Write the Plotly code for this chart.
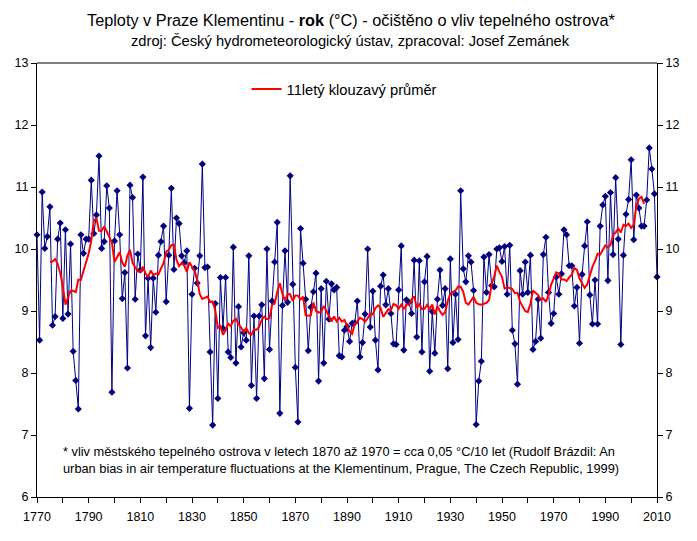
import plotly.graph_objects as go
import pandas as pd

# ---- data ----
first_year = 1770
temps = [
    10.23, 8.53, 10.92, 10.01, 10.20, 10.68, 8.77, 8.91, 10.16, 10.42,   # 1770-1779
    8.88, 10.31, 8.95, 10.08, 8.35, 7.88, 7.42, 10.23, 9.93, 10.16,      # 1780-1789
    10.16, 11.11, 10.25, 10.55, 11.50, 10.01, 10.12, 11.02, 10.66, 7.69, # 1790-1799
    10.13, 10.94, 10.23, 9.20, 9.62, 8.08, 11.03, 10.83, 9.19, 9.92,     # 1800-1809
    9.66, 11.16, 8.60, 9.53, 8.41, 9.53, 8.98, 9.90, 10.12, 10.37,       # 1810-1819
    9.15, 9.90, 10.98, 9.67, 10.50, 10.41, 9.89, 9.78, 9.97, 7.43,       # 1820-1829
    9.27, 9.69, 9.45, 9.89, 11.37, 9.70, 9.71, 8.34, 7.16, 9.12,         # 1830-1839
    7.59, 9.54, 8.72, 9.54, 8.34, 8.25, 10.03, 8.16, 9.07, 8.42,         # 1840-1849
    8.65, 8.53, 9.89, 7.80, 8.92, 7.59, 8.92, 9.10, 7.91, 10.00,         # 1850-1859
    8.38, 9.16, 9.79, 10.43, 7.35, 9.09, 9.97, 9.14, 11.18, 9.43,        # 1860-1869
    8.09, 7.21, 10.33, 9.77, 9.19, 8.36, 9.06, 9.31, 9.61, 7.87,         # 1870-1879
    9.36, 8.16, 9.48, 8.87, 9.44, 9.34, 9.38, 8.28, 8.26, 8.69,          # 1880-1889
    8.75, 8.51, 8.80, 8.81, 9.16, 8.26, 8.49, 8.95, 10.00, 8.74,         # 1890-1899
    9.32, 8.53, 8.05, 9.40, 9.58, 9.10, 9.36, 8.96, 8.47, 8.46,          # 1900-1909
    9.34, 10.05, 8.37, 9.18, 9.14, 8.96, 9.82, 8.58, 9.81, 8.34,         # 1910-1919
    9.47, 9.88, 8.03, 8.99, 8.32, 9.19, 9.66, 9.09, 9.36, 8.07,          # 1920-1929
    9.84, 8.49, 9.27, 8.54, 10.94, 9.68, 9.47, 9.89, 9.79, 9.33,         # 1930-1939
    7.17, 7.87, 8.19, 9.87, 9.30, 9.91, 9.41, 9.39, 10.00, 10.02,        # 1940-1949
    9.80, 10.04, 9.27, 10.06, 8.69, 8.47, 7.82, 9.65, 9.27, 9.79,        # 1950-1959
    9.30, 9.90, 8.38, 8.51, 9.19, 8.56, 9.91, 10.19, 9.30, 8.80,         # 1960-1969
    8.96, 9.55, 9.27, 9.60, 10.31, 10.23, 9.73, 9.73, 9.08, 9.38,        # 1970-1979
    8.48, 9.59, 10.05, 10.44, 9.26, 8.79, 9.50, 8.79, 10.37, 10.71,      # 1980-1989
    10.85, 9.49, 10.91, 9.91, 11.15, 10.16, 8.46, 9.90, 10.56, 10.80,    # 1990-1999
    11.44, 10.15, 10.87, 10.66, 10.37, 10.37, 10.79, 11.63, 11.29, 10.89,# 2000-2009
    9.55,                                                               # 2010
]
years = list(range(first_year, first_year + len(temps)))
ma_window = 11
moving_avg = pd.Series(temps).rolling(ma_window, center=True).mean().tolist()

x_tick_vals = list(range(1770, 2011, 10))
x_tick_text = ["1770", "", "1790", "", "1810", "", "1830", "", "1850", "", "1870", "",
               "1890", "", "1910", "", "1930", "", "1950", "", "1970", "", "1990", "", "2010"]
y_tick_vals = [6, 7, 8, 9, 10, 11, 12, 13]

title_line1 = "Teploty v Praze Klementinu - <b>rok</b> (°C) - očištěno o vliv tepelného ostrova*"
title_line2 = "zdroj: Český hydrometeorologický ústav, zpracoval: Josef Zemánek"
note_text = ("* vliv městského tepelného ostrova v letech 1870 až 1970 = cca 0,05 °C/10 let (Rudolf Brázdil: An<br>"
             "urban bias in air temperature fluctuations at the Klementinum, Prague, The Czech Republic, 1999)")
legend_name = "11letý klouzavý průměr"

FONT = "Liberation Sans, Arial, sans-serif"
NAVY = "#000080"

fig = go.Figure()
fig.add_trace(go.Scatter(
    x=years, y=temps, mode="lines+markers",
    line=dict(color=NAVY, width=1),
    marker=dict(symbol="diamond", size=5.5, color=NAVY),
    showlegend=False, cliponaxis=False, name="rok",
))
fig.add_trace(go.Scatter(
    x=years, y=moving_avg, mode="lines",
    line=dict(color="#ff0000", width=2),
    name=legend_name, showlegend=True,
))
# invisible trace to activate the right-hand axis
fig.add_trace(go.Scatter(
    x=years, y=temps, yaxis="y2", mode="lines",
    line=dict(width=0), opacity=0, showlegend=False, hoverinfo="skip",
))

axis_common = dict(
    showline=True, linecolor="black", linewidth=1, mirror=False,
    ticks="outside", ticklen=5, tickcolor="black", showgrid=False, zeroline=False,
    tickfont=dict(family=FONT, size=12.5, color="black"),
)

fig.update_layout(
    width=697, height=541,
    paper_bgcolor="white", plot_bgcolor="white",
    margin=dict(l=37, r=40, t=63, b=44),
    font=dict(family=FONT, size=12, color="black"),
    xaxis=dict(range=[1770, 2010], tickmode="array", tickvals=x_tick_vals, ticktext=x_tick_text,
               ticklabelstandoff=3, **axis_common),
    yaxis=dict(range=[6, 13], tickmode="array", tickvals=y_tick_vals, **axis_common),
    yaxis2=dict(range=[6, 13], tickmode="array", tickvals=y_tick_vals, overlaying="y", side="right",
                **axis_common),
    legend=dict(x=0.338, y=0.977, xanchor="left", yanchor="top", bgcolor="rgba(0,0,0,0)",
                font=dict(family=FONT, size=14.7, color="black"), itemwidth=30),
    annotations=[
        dict(text=title_line1, xref="paper", yref="paper", x=0.506, y=1.099, xanchor="center",
             yanchor="middle", showarrow=False, font=dict(family=FONT, size=16.3, color="black")),
        dict(text=title_line2, xref="paper", yref="paper", x=0.506, y=1.051, xanchor="center",
             yanchor="middle", showarrow=False, font=dict(family=FONT, size=14.7, color="black")),
        dict(text=note_text, xref="paper", yref="paper", x=0.039, y=0.127, xanchor="left",
             yanchor="top", align="left", showarrow=False,
             font=dict(family=FONT, size=12.8, color="black")),
    ],
    shapes=[dict(type="line", xref="paper", yref="paper", x0=0, x1=1, y0=1, y1=1,
                 line=dict(color="black", width=1))],
)

fig.write_html("out.html", config={"displayModeBar": False},
               post_script="document.body.style.margin='0';")
